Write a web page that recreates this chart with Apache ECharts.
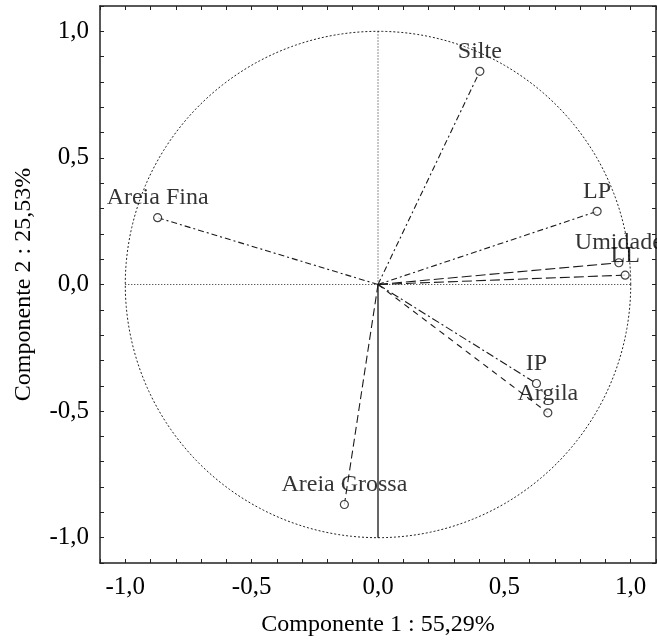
<!DOCTYPE html>
<html>
  <head>
    <meta charset="utf-8" />
    <title>Círculo de correlações</title>
    <script src="https://cdn.jsdelivr.net/npm/echarts@6.0.0/dist/echarts.min.js"></script>
  </head>
  <body style="margin: 0">
    <div id="main" style="width: 657px; height: 640px"></div>
    <script type="text/javascript">
      var myChart = echarts.init(document.getElementById("main"));

      // cargas das variáveis nos componentes 1 e 2
      var variaveis = ["Silte", "Areia Fina", "LP", "Umidade", "LL", "IP", "Argila", "Areia Grossa"];
      var comp1 = [0.403, -0.872, 0.867, 0.953, 0.978, 0.627, 0.672, -0.133];
      var comp2 = [0.842, 0.264, 0.289, 0.086, 0.037, -0.391, -0.507, -0.869];
      var xTitulo = "Componente 1 : 55,29%";
      var yTitulo = "Componente 2 : 25,53%";

      // tracejado de cada vetor
      var tracos = [[6, 3, 2, 3], [6, 3, 2, 3], [6, 3, 2, 3], [10, 4], [10, 4], [8, 3, 2, 3], [6, 5], [8, 4]];

      var fonte = "'Liberation Serif', 'Times New Roman', serif";

      function rotulo(v) {
        var r = Math.round(v * 10) / 10 + 0;
        if (Math.abs(r * 2 - Math.round(r * 2)) > 1e-6 || Math.abs(r) > 1) return "";
        return r.toFixed(1).replace(".", ",");
      }

      // círculo unitário
      var circulo = [];
      for (var i = 0; i <= 360; i++) {
        var a = (i * Math.PI) / 180;
        circulo.push([Math.cos(a), Math.sin(a)]);
      }

      var series = [
        {
          type: "line",
          data: circulo,
          showSymbol: false,
          silent: true,
          lineStyle: { color: "#222", width: 1, type: [2, 2] },
        },
        {
          type: "line",
          data: [[-1, 0], [1, 0]],
          showSymbol: false,
          silent: true,
          lineStyle: { color: "#222", width: 1, type: [1, 2] },
        },
        {
          type: "line",
          data: [[0, 0], [0, 1]],
          showSymbol: false,
          silent: true,
          lineStyle: { color: "#222", width: 1, type: [1, 2] },
        },
        {
          type: "line",
          data: [[0, 0], [0, -1]],
          showSymbol: false,
          silent: true,
          lineStyle: { color: "#000", width: 1.2 },
        },
      ];

      for (var k = 0; k < variaveis.length; k++) {
        series.push({
          type: "line",
          data: [[0, 0], [comp1[k], comp2[k]]],
          showSymbol: false,
          silent: true,
          lineStyle: { color: "#1a1a1a", width: 1.1, type: tracos[k] },
        });
      }

      var pontos = [];
      for (var k = 0; k < variaveis.length; k++) {
        pontos.push({ name: variaveis[k], value: [comp1[k], comp2[k]] });
      }
      series.push({
        type: "scatter",
        data: pontos,
        symbol: "circle",
        symbolSize: 8,
        itemStyle: { color: "#fff", borderColor: "#111", borderWidth: 1.2 },
        label: {
          show: true,
          position: "top",
          distance: 3,
          formatter: "{b}",
          color: "#000",
          fontFamily: fonte,
          fontSize: 24,
        },
        z: 5,
      });

      function eixoX(pos, principal) {
        return {
          type: "value",
          position: pos,
          min: -1.1,
          max: 1.1,
          interval: 0.1,
          name: principal ? xTitulo : "",
          nameLocation: "middle",
          nameGap: 50,
          nameTextStyle: { color: "#000", fontFamily: fonte, fontSize: 24 },
          axisLine: { onZero: false, lineStyle: { color: "#222", width: 1.5 } },
          axisTick: { inside: true, length: 4, lineStyle: { color: "#222" } },
          axisLabel: {
            show: principal,
            margin: 12,
            color: "#000",
            fontFamily: fonte,
            fontSize: 25,
            formatter: rotulo,
          },
          splitLine: { show: false },
        };
      }

      function eixoY(pos, principal) {
        return {
          type: "value",
          position: pos,
          min: -1.1,
          max: 1.1,
          interval: 0.1,
          name: principal ? yTitulo : "",
          nameLocation: "middle",
          nameRotate: 90,
          nameGap: 64,
          nameTextStyle: { color: "#000", fontFamily: fonte, fontSize: 24 },
          axisLine: { onZero: false, lineStyle: { color: "#222", width: 1.5 } },
          axisTick: { inside: true, length: 4, lineStyle: { color: "#222" } },
          axisLabel: {
            show: principal,
            margin: 11,
            color: "#000",
            fontFamily: fonte,
            fontSize: 25,
            formatter: rotulo,
          },
          splitLine: { show: false },
        };
      }

      var option = {
        animation: false,
        backgroundColor: "#fff",
        grid: { left: 100, right: 1, top: 6, bottom: 77, containLabel: false, outerBoundsMode: "none" },
        xAxis: [eixoX("bottom", true), eixoX("top", false)],
        yAxis: [eixoY("left", true), eixoY("right", false)],
        series: series,
      };
      myChart.setOption(option);
    </script>
  </body>
</html>
